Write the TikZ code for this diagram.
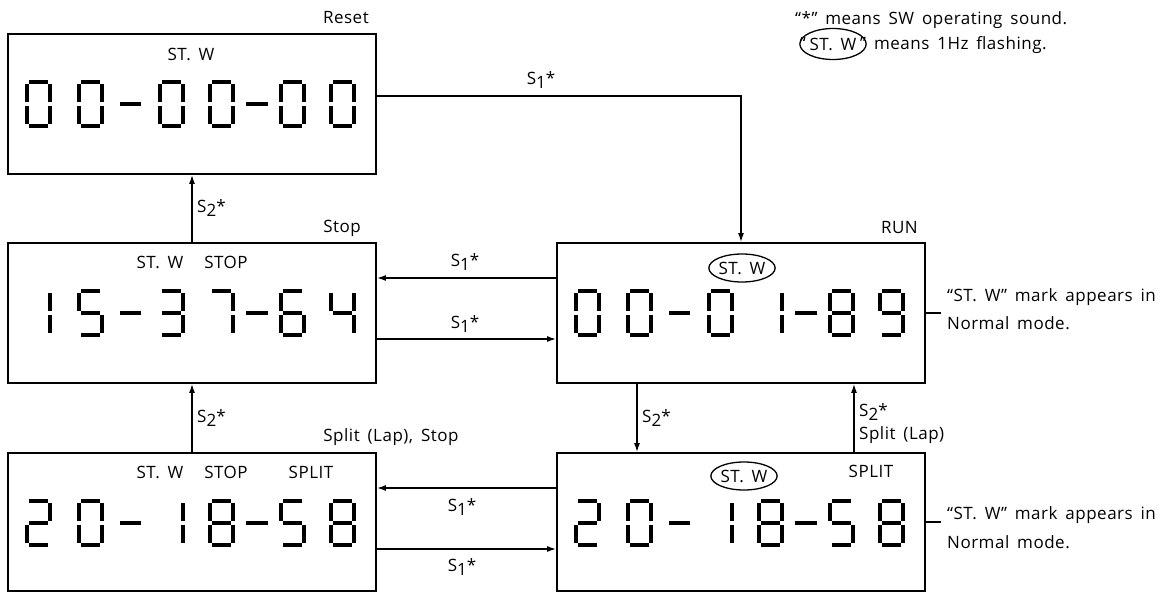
\documentclass[tikz,border=0pt]{standalone}
\usepackage{fontspec}
\setmainfont{Open Sans}[WordSpace=1.6,LetterSpace=3]
\usetikzlibrary{arrows.meta,shapes.geometric}
% seven-segment pieces (x,y = top-left of a 27x48 cell)
\newcommand{\lcdsega}[2]{\fill (#1+4,#2) rectangle (#1+23,#2+4);}
\newcommand{\lcdsegb}[2]{\fill (#1+23,#2+4) rectangle (#1+27,#2+22);}
\newcommand{\lcdsegc}[2]{\fill (#1+23,#2+26) rectangle (#1+27,#2+44);}
\newcommand{\lcdsegd}[2]{\fill (#1+4,#2+44) rectangle (#1+23,#2+48);}
\newcommand{\lcdsege}[2]{\fill (#1,#2+26) rectangle (#1+4,#2+44);}
\newcommand{\lcdsegf}[2]{\fill (#1,#2+4) rectangle (#1+4,#2+22);}
\newcommand{\lcdsegg}[2]{\fill (#1+4,#2+22) rectangle (#1+23,#2+26);}
\newcommand{\sgzero}{a,b,c,d,e,f}
\newcommand{\sgone}{b,c}
\newcommand{\sgtwo}{a,b,g,e,d}
\newcommand{\sgthree}{a,b,g,c,d}
\newcommand{\sgfour}{f,g,b,c}
\newcommand{\sgfive}{a,f,g,c,d}
\newcommand{\sgsix}{a,f,g,e,c,d}
\newcommand{\sgseven}{a,b,c}
\newcommand{\sgeight}{a,b,c,d,e,f,g}
\newcommand{\sgnine}{a,b,c,d,f,g}
\newcommand{\digitat}[3]{\foreach \s in #3 {\csname lcdseg\s\endcsname{#1}{#2}}}
\newcommand{\lcdrow}[8]{%
  \digitat{#1+17}{#2}{#3}
  \digitat{#1+69}{#2}{#4}
  \fill (#1+112,#2+22) rectangle (#1+133,#2+26);
  \digitat{#1+150}{#2}{#5}
  \digitat{#1+200}{#2}{#6}
  \fill (#1+238,#2+22) rectangle (#1+260,#2+26);
  \digitat{#1+271}{#2}{#7}
  \digitat{#1+321}{#2}{#8}}
\newcommand{\sone}{S\raisebox{-4pt}{1}*}
\newcommand{\stwo}{S\raisebox{-4pt}{2}*}
\begin{document}
\begin{tikzpicture}[x=1pt,y=-1pt,
  every node/.style={font=\fontsize{17}{20}\selectfont},
  box/.style={draw,line width=1.8pt,minimum width=368pt,minimum height=140pt,inner sep=0pt},
  conn/.style={line width=1.4pt,-{Latex[length=9pt,width=6pt]}},
  lead/.style={line width=1.4pt},
  lbl/.style={inner sep=0pt},
  stw/.style={draw,ellipse,line width=1.3pt,inner sep=0pt,minimum width=66pt,minimum height=28pt}]
\useasboundingbox (0,0) rectangle (1171,592);
% boxes
\node[box] (reset) at (192,104) {};
\node[box] (stop) at (192,313) {};
\node[box] (run) at (741,313) {};
\node[box,minimum height=138pt] (spstop) at (192,522) {};
\node[box,minimum height=138pt] (sprun) at (741,522) {};
% digits
\lcdrow{8}{80}{\sgzero}{\sgzero}{\sgzero}{\sgzero}{\sgzero}{\sgzero}
\lcdrow{8}{289}{\sgone}{\sgfive}{\sgthree}{\sgseven}{\sgsix}{\sgfour}
\lcdrow{557}{289}{\sgzero}{\sgzero}{\sgzero}{\sgone}{\sgeight}{\sgnine}
\lcdrow{8}{499}{\sgtwo}{\sgzero}{\sgone}{\sgeight}{\sgfive}{\sgeight}
\lcdrow{557}{499}{\sgtwo}{\sgzero}{\sgone}{\sgeight}{\sgfive}{\sgeight}
% in-box marks
\node[lbl] (rstw) at (191,54) {ST. W};
\node[lbl] (sstw) at (160,262) {ST. W};
\node[lbl] (sstop) at (226,262) {STOP};
\node[stw] (rnstw) at (742,268) {ST. W};
\node[lbl] (lstw) at (160,472) {ST. W};
\node[lbl] (lstop) at (226,472) {STOP};
\node[lbl] (lsplit) at (311,472) {SPLIT};
\node[stw] (bstw) at (744,476) {ST. W};
\node[lbl] (bsplit) at (871,471) {SPLIT};
% titles
\node[lbl,anchor=east] (tres) at (369,18) {Reset};
\node[lbl,anchor=east] (tstop) at (361,228) {Stop};
\node[lbl,anchor=east] (trun) at (918,228) {RUN};
\node[lbl] (tsps) at (391,437) {Split (Lap), Stop};
% connectors
\draw[conn] ([yshift=8pt]reset.east) -| (run.north);
\node[lbl] (l1) at (541,80) {\sone};
\draw[conn] ([yshift=35pt]run.west) -- ([yshift=35pt]stop.east);
\node[lbl] (l2) at (465,262) {\sone};
\draw[conn] ([yshift=-26pt]stop.east) -- ([yshift=-26pt]run.west);
\node[lbl] (l3) at (465,324) {\sone};
\draw[conn] ([yshift=34pt]sprun.west) -- ([yshift=34pt]spstop.east);
\node[lbl] (l4) at (462,507) {\sone};
\draw[conn] ([yshift=-27pt]spstop.east) -- ([yshift=-27pt]sprun.west);
\node[lbl] (l5) at (462,567) {\sone};
\draw[conn] (stop.north) -- (reset.south);
\node[lbl,anchor=west] (l6) at (197,208) {\stwo};
\draw[conn] (spstop.north) -- (stop.south);
\node[lbl,anchor=west] (l7) at (197,418) {\stwo};
\draw[conn] ([xshift=-104pt]run.south) -- ([xshift=-104pt]sprun.north);
\node[lbl,anchor=west] (l8) at (642,418) {\stwo};
\draw[conn] ([xshift=113pt]sprun.north) -- ([xshift=113pt]run.south);
\node[lbl,anchor=west] (l9) at (859,412) {\stwo};
\node[lbl,anchor=west] (l10) at (859,435) {Split (Lap)};
% side notes
\coordinate (runlead) at (941,313);
\draw[lead] (run.east) -- (runlead);
\node[lbl,anchor=west] (n1) at (947,297) {“ST. W” mark appears in};
\node[lbl,anchor=west] (n2) at (947,323) {Normal mode.};
\coordinate (brlead) at (941,522);
\draw[lead] (sprun.east) -- (brlead);
\node[lbl,anchor=west] (n3) at (947,515) {“ST. W” mark appears in};
\node[lbl,anchor=west] (n4) at (947,542) {Normal mode.};
% legend
\node[lbl,anchor=base west] (g1) at (795,24) {“*” means SW operating sound.};
\node[lbl,anchor=base east] (gq) at (806,49) {“};
\node[draw,ellipse,line width=1.3pt,inner sep=0pt,minimum width=58pt,minimum height=31pt] (gst) at (833,44) {ST. W};
\node[lbl,anchor=base west] (g2) at (860,49) {” means 1Hz flashing.};
\end{tikzpicture}
\end{document}
